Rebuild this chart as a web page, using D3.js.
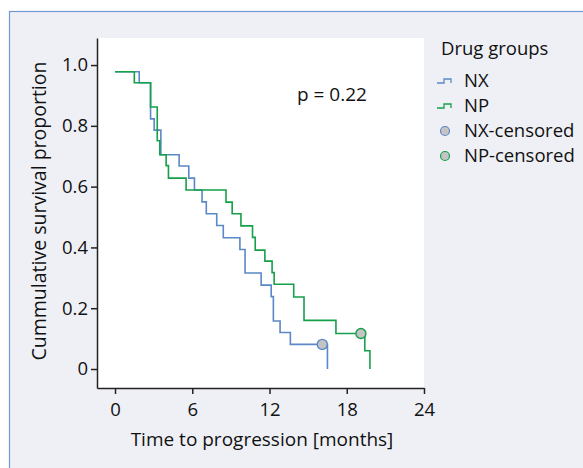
<!DOCTYPE html>
<meta charset="utf-8">
<style>
body { margin: 0; background: #fff; }
text { font-family: "Open Sans", "Noto Sans", sans-serif; fill: #111; }
.axis path, .axis line { stroke: #222; stroke-width: 1.5px; }
.axis text { font-size: 18.5px; }
</style>
<svg width="583" height="468"></svg>
<script src="https://d3js.org/d3.v7.min.js"></script>
<script>
// Kaplan-Meier steps
var nxTimes = [0, 1.88, 2.76, 3.04, 3.56, 4.98, 5.73, 6.17, 6.76, 7.09, 7.9, 8.41, 9.7, 10.1, 11.35, 12.13, 12.3, 12.82, 13.62, 16.5];
var nxSurv  = [0.978, 0.942, 0.823, 0.786, 0.705, 0.668, 0.628, 0.589, 0.550, 0.511, 0.472, 0.432, 0.393, 0.316, 0.276, 0.238, 0.158, 0.12, 0.081, 0];
var npTimes = [0, 1.5, 2.76, 3.28, 3.48, 3.97, 4.15, 5.52, 8.62, 9.1, 9.78, 10.68, 10.89, 11.64, 12.2, 12.36, 13.88, 14.68, 17.16, 19.4, 19.8];
var npSurv  = [0.978, 0.942, 0.862, 0.751, 0.705, 0.669, 0.628, 0.589, 0.549, 0.511, 0.471, 0.433, 0.391, 0.355, 0.317, 0.279, 0.237, 0.16, 0.117, 0.06, 0];
var nxCensored = [{t: 16.1, s: 0.081}];
var npCensored = [{t: 19.1, s: 0.117}];

var xTicks = [0, 6, 12, 18, 24];
var yTicks = [0, 0.2, 0.4, 0.6, 0.8, 1.0];
var legendLabels = ["NX", "NP", "NX-censored", "NP-censored"];

var blue = "#5b88c6", green = "#16a04a";

var svg = d3.select("svg");

// panel background
svg.append("rect")
  .attr("x", 9.5).attr("y", 11.5)
  .attr("width", 600).attr("height", 480)
  .attr("fill", "#eff0f6")
  .attr("stroke", "#7098d2").attr("stroke-width", 1.2);

var x = d3.scaleLinear().domain([-1.4, 24]).range([97, 424]);
var y = d3.scaleLinear().domain([-0.0625, 1.089]).range([388, 38]);

// plot area
svg.append("rect")
  .attr("x", 97).attr("y", 38)
  .attr("width", 424 - 97).attr("height", 388 - 38)
  .attr("fill", "#fff");

svg.append("g")
  .attr("class", "axis")
  .attr("transform", "translate(0,388)")
  .call(d3.axisBottom(x).tickValues(xTicks).tickSize(6).tickSizeOuter(0).tickPadding(4))
  .selectAll("text").attr("dy", "0.95em");

svg.append("g")
  .attr("class", "axis")
  .attr("transform", "translate(97,0)")
  .call(d3.axisLeft(y).tickValues(yTicks).tickSize(6).tickSizeOuter(0).tickPadding(3)
    .tickFormat(function(d) { return d === 0 ? "0" : d3.format(".1f")(d); }));

var line = d3.line()
  .x(function(d) { return x(d[0]); })
  .y(function(d) { return y(d[1]); })
  .curve(d3.curveStepAfter);

function drawGroup(times, surv, color) {
  svg.append("path")
    .datum(d3.zip(times, surv))
    .attr("d", line)
    .attr("fill", "none")
    .attr("stroke", color)
    .attr("stroke-width", 1.6);
}
drawGroup(nxTimes, nxSurv, blue);
drawGroup(npTimes, npSurv, green);

function drawCensor(pts, color) {
  svg.selectAll(null)
    .data(pts)
    .enter().append("circle")
    .attr("cx", function(d) { return x(d.t); })
    .attr("cy", function(d) { return y(d.s); })
    .attr("r", 5)
    .attr("fill", "#c4c4c4")
    .attr("stroke", color)
    .attr("stroke-width", 1.4);
}
drawCensor(nxCensored, blue);
drawCensor(npCensored, green);

svg.append("text")
  .attr("x", 297).attr("y", 101)
  .style("font-size", "19px")
  .text("p = 0.22");

// axis titles
svg.append("text")
  .attr("x", 262).attr("y", 446)
  .attr("text-anchor", "middle")
  .style("font-size", "19px")
  .text("Time to progression [months]");

svg.append("text")
  .attr("transform", "translate(46,211) rotate(-90)")
  .attr("text-anchor", "middle")
  .style("font-size", "19.5px")
  .text("Cummulative survival proportion");

// legend
var legend = svg.append("g");
legend.append("text")
  .attr("x", 441).attr("y", 55)
  .style("font-size", "18.5px")
  .text("Drug groups");

var legendColors = [blue, green, blue, green];
var legendY = [87, 112, 137, 162];
legendLabels.forEach(function(label, i) {
  var ly = legendY[i];
  if (i < 2) {
    legend.append("path")
      .attr("d", "M437," + (ly - 4) + "H444V" + (ly - 8) + "H451V" + (ly - 4))
      .attr("fill", "none")
      .attr("stroke", legendColors[i])
      .attr("stroke-width", 1.3);
  } else {
    legend.append("circle")
      .attr("cx", 445).attr("cy", ly - 6)
      .attr("r", 4.5)
      .attr("fill", "#c4c4c4")
      .attr("stroke", legendColors[i])
      .attr("stroke-width", 1.2);
  }
  legend.append("text")
    .attr("x", 464).attr("y", ly)
    .style("font-size", "18.5px")
    .text(label);
});
</script>
